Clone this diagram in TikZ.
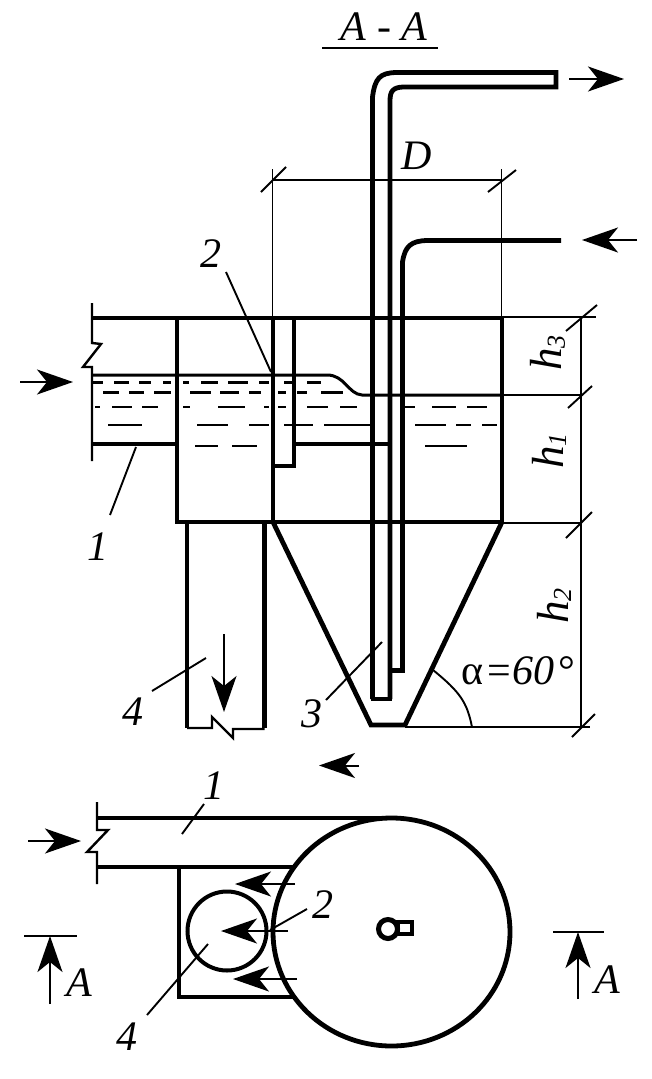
\documentclass[tikz,border=0pt]{standalone}
\usepackage{fontspec}
\setmainfont{Liberation Serif}
\usetikzlibrary{arrows.meta}

\tikzset{
  heavy/.style={line width=4.8pt},
  medium/.style={line width=3pt},
  wave/.style={line width=2.4pt},
  thin line/.style={line width=1.9pt},
  flow/.style={line width=2pt,-{Stealth[length=36pt,width=25pt,inset=10pt]}},
  label/.style={font=\fontsize{42}{42}\selectfont\itshape,inner sep=0pt},
  dimlabel/.style={font=\fontsize{45}{45}\selectfont\itshape,inner sep=0pt,rotate=90}
}
\newcommand{\lowidx}[1]{\raisebox{-3pt}{\fontsize{26}{26}\selectfont #1}}

\begin{document}
\begin{tikzpicture}[x=1pt,y=-1pt]
  \useasboundingbox (0,0) rectangle (651,1079);

  % title
  \node[label] (title) at (384,27) {A - A};
  \coordinate (tl) at (322,48);
  \coordinate (tr) at (438,48);
  \draw[wave] (tl) -- (tr);

  % tank
  \draw[heavy] (92,318) -- (502,318) -- (502,522) -- (177,522) -- (177,318);
  \draw[heavy] (273,318) -- (273,522);
  \draw[heavy] (273,466) -- (294,466) -- (294,318);
  \draw[heavy] (92,444) -- (177,444);
  \draw[heavy] (294,444) -- (390,444);

  % channel cut
  \draw[wave] (92,303) -- (92,343) -- (101,344) -- (83,367) -- (92,367) -- (92,461);

  % water
  \draw[medium] (92,375) -- (327,375) .. controls (345,375) and (348,394) .. (362,395) -- (502,395);
  \foreach \a/\b in {93/103,114/129,139/151,163/171,183/189,201/218,228/248,259/269,284/292,307/321}
    \draw[medium] (\a,382) -- (\b,382);
  \foreach \a/\b in {103/119,129/144,154/171,190/211,220/239,249/261,278/286,297/307,321/343}
    \draw[medium] (\a,392.5) -- (\b,392.5);
  \foreach \a/\b in {95/100,112/132,142/158,183/190,218/245,264/269,278/286,307/328,340/357,405/415,432/456,467/487}
    \draw[wave] (\a,407) -- (\b,407);
  \foreach \a/\b in {108/142,197/228,249/269,284/313,324/370,415/446,456/471,482/497}
    \draw[wave] (\a,425) -- (\b,425);
  \foreach \a/\b in {195/218,232/257,425/467}
    \draw[wave] (\a,446) -- (\b,446);

  % pipes
  \draw[heavy] (372.5,699) -- (372.5,97) .. controls (375,78) and (380,73) .. (396,72.5) -- (556,72.5) -- (556,87) -- (403,87) .. controls (393,87.5) and (390,91) .. (390,101) -- (390,699);
  \draw[heavy] (370.5,699) -- (392,699);
  \draw[heavy] (390,670.5) -- (402.5,670.5) -- (402.5,262) .. controls (405,246) and (411,241) .. (427,240.5) -- (561,240.5);

  % hopper
  \draw[heavy] (273,522) -- (371,725) -- (405,725) -- (502,522);
  \draw[wave] (405,727) -- (590,727);
  \draw[thin line] (433,670) .. controls (460,692) and (467,702) .. (472,727);

  % outlet
  \draw[heavy] (187,522) -- (187,728);
  \draw[heavy] (264.5,522) -- (264.5,728);
  \draw[wave] (187,728) -- (212,728) -- (212,717) -- (233,738) -- (233,729) -- (264.5,729);

  % dimensions
  \draw[thin line] (272.5,169) -- (272.5,318);
  \draw[thin line] (501.5,169) -- (501.5,318);
  \draw[thin line] (272.5,180) -- (501.5,180);
  \draw[thin line] (261,192) -- (286,167);
  \draw[thin line] (488,192) -- (516,170);
  \draw[thin line] (502,317) -- (596,317);
  \draw[thin line] (502,395) -- (581,395);
  \draw[thin line] (502,523) -- (581,523);
  \draw[thin line] (581,317) -- (581,727);
  \draw[thin line] (566,331) -- (597,305);
  \draw[thin line] (568,408) -- (592,386);
  \draw[thin line] (566,538) -- (592,512);
  \draw[thin line] (572,737) -- (595,714);

  \node[label] (dim d) at (417,156) {D};
  \node[dimlabel] (dim h3) at (548,353) {h\lowidx{3}};
  \node[dimlabel] (dim h1) at (549,451) {h\lowidx{1}};
  \node[dimlabel] (dim h2) at (554,606) {h\lowidx{2}};
  \node[label] (angle) at (518.5,671) {{\upshape α\hspace{4pt}=\hspace{2pt}}60\hspace{4pt}{\upshape °}};

  % leaders
  \draw[thin line] (226,272) -- (271,372);
  \draw[thin line] (136,447) -- (110,515);
  \draw[thin line] (206,658) -- (152,691);
  \draw[thin line] (382,642) -- (326,700);
  \node[label] (lab 2) at (211,254) {2};
  \node[label] (lab 1) at (98,547) {1};
  \node[label] (lab 4) at (133,712) {4};
  \node[label] (lab 3) at (312,714) {3};

  % flow arrows
  \draw[flow] (20,382) -- (73,382);
  \draw[flow] (569,79) -- (624,79);
  \draw[flow] (637,240) -- (582,240);
  \draw[flow] (224,634) -- (224,712);
  \draw[flow] (359,765.5) -- (319,765.5);

  % plan
  \draw[heavy] (97,818) -- (392,818);
  \draw[heavy] (97,867) -- (293,867);
  \draw[wave] (97,802) -- (97,830) -- (108,830) -- (87,852) -- (97,852) -- (97,884);
  \draw[heavy] (391.5,932) ellipse [x radius=118.5,y radius=114];
  \draw[heavy] (179,867) -- (179,997) -- (295,997);
  \draw[line width=4pt] (227,931) circle [radius=39.5];
  \draw[line width=5pt] (388,929) circle [radius=9.5];
  \draw[line width=4.5pt] (398,922) rectangle (412,934);

  \draw[flow] (295,884) -- (235,884);
  \draw[flow] (288,931) -- (221,931);
  \draw[flow] (297,979) -- (233,979);
  \draw[flow] (28,841) -- (81,841);

  \draw[thin line] (204,804) -- (182,834);
  \draw[thin line] (307,909) -- (270,930);
  \draw[thin line] (208,944) -- (147,1015);
  \node[label] (plan 1) at (214,786) {1};
  \node[label] (plan 2) at (323,905) {2};
  \node[label] (plan 4) at (127,1037) {4};

  % section marks
  \draw[wave] (24,936) -- (77,936);
  \draw[flow] (50,1004) -- (50,936);
  \node[label] (sec l) at (79,983) {A};
  \draw[wave] (553,932) -- (604,932);
  \draw[flow] (578,999) -- (578,932);
  \node[label] (sec r) at (607,980) {A};
\end{tikzpicture}
\end{document}
